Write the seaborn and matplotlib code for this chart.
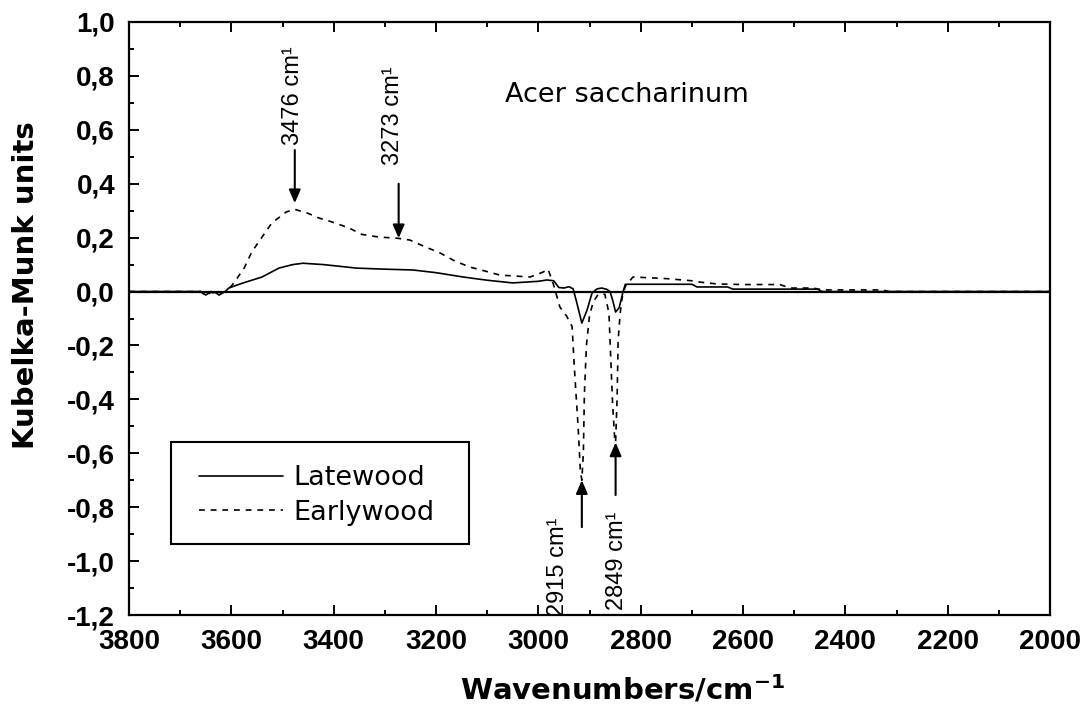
import matplotlib as mpl

mpl.use('Agg')
import matplotlib.pyplot as plt
from matplotlib.ticker import MultipleLocator
from matplotlib.patches import Rectangle
import seaborn as sns
import pandas as pd

# ---- data ----
late_x = [3800, 3700, 3660, 3650, 3640, 3630, 3624, 3612, 3605, 3580, 3560,
          3540, 3507, 3480, 3460, 3420, 3380, 3356, 3300, 3245, 3200, 3147,
          3100, 3050, 3000, 2983, 2970, 2960, 2950, 2940, 2932, 2925, 2915,
          2905, 2895, 2885, 2876, 2866, 2860, 2855, 2849, 2842, 2835, 2830,
          2700, 2690, 2630, 2620, 2455, 2445, 2000]
late_y = [0.0, 0.0, 0.0, -0.013, 0.0, -0.005, -0.013, 0.0, 0.013, 0.03, 0.042,
          0.054, 0.087, 0.100, 0.105, 0.100, 0.092, 0.087, 0.083, 0.080, 0.070,
          0.054, 0.042, 0.032, 0.038, 0.043, 0.040, 0.015, 0.013, 0.018, 0.010,
          -0.04, -0.117, -0.07, -0.005, 0.010, 0.013, 0.008, 0.0, -0.03, -0.076,
          -0.06, -0.005, 0.027, 0.027, 0.017, 0.017, 0.009, 0.009, 0.0, 0.0]

early_x = [3800, 3700, 3660, 3650, 3640, 3625, 3612, 3600, 3591, 3575, 3560,
           3540, 3521, 3493, 3476, 3450, 3429, 3403, 3370, 3345, 3311, 3276,
           3251, 3225, 3192, 3163, 3134, 3104, 3075, 3016, 2991, 2981, 2971,
           2958, 2945, 2934, 2930, 2926, 2922, 2918, 2915, 2912, 2910, 2906,
           2900, 2893, 2883, 2870, 2862, 2858, 2855, 2851, 2849, 2846, 2844,
           2840, 2836, 2830, 2815, 2750, 2700, 2684, 2650, 2600, 2528, 2508,
           2463, 2444, 2327, 2315, 2000]
early_y = [0.0, 0.0, 0.0, -0.015, -0.003, -0.008, 0.0, 0.02, 0.043, 0.087, 0.147,
           0.202, 0.254, 0.295, 0.305, 0.290, 0.273, 0.258, 0.236, 0.212, 0.202,
           0.198, 0.191, 0.169, 0.143, 0.113, 0.091, 0.076, 0.061, 0.054, 0.072,
           0.083, 0.03, -0.057, -0.09, -0.13, -0.27, -0.39, -0.51, -0.66, -0.70,
           -0.60, -0.38, -0.20, -0.09, -0.04, -0.01, -0.01, -0.08, -0.27, -0.41,
           -0.54, -0.56, -0.39, -0.18, -0.08, -0.02, 0.02, 0.054, 0.048, 0.040,
           0.035, 0.028, 0.026, 0.026, 0.013, 0.013, 0.006, 0.006, 0.0, 0.0]

x_ticks = [3800, 3600, 3400, 3200, 3000, 2800, 2600, 2400, 2200, 2000]
y_ticks = [-1.2, -1.0, -0.8, -0.6, -0.4, -0.2, 0.0, 0.2, 0.4, 0.6, 0.8, 1.0]
y_tick_labels = ['-1,2', '-1,0', '-0,8', '-0,6', '-0,4', '-0,2',
                 '0,0', '0,2', '0,4', '0,6', '0,8', '1,0']

# peak labels: (wavenumber, arrow start y, arrow tip y, text x, text y, va)
peaks = [
    (3476, 0.525, 0.328, 3480, 0.545, 'bottom'),
    (3273, 0.400, 0.198, 3284, 0.470, 'bottom'),
    (2915, -0.874, -0.700, 2962, -0.840, 'top'),
    (2849, -0.755, -0.560, 2846, -0.815, 'top'),
]

sns.set_style('ticks')
plt.rcParams['font.family'] = ['Liberation Sans', 'DejaVu Sans']
plt.rcParams['mathtext.fontset'] = 'custom'
plt.rcParams['mathtext.rm'] = 'DejaVu Sans'
plt.rcParams['mathtext.bf'] = 'DejaVu Sans:bold'
for key in ['text.color', 'axes.labelcolor', 'xtick.color', 'ytick.color',
            'axes.edgecolor']:
    plt.rcParams[key] = 'black'

fig = plt.figure(figsize=(10.87, 7.07), dpi=100)
ax = fig.add_axes([129 / 1087, 1 - 615 / 707, 921 / 1087, 593 / 707])

late_df = pd.DataFrame({'x': late_x, 'y': late_y})
early_df = pd.DataFrame({'x': early_x, 'y': early_y})

ax.axhline(0, color='black', lw=1.6, zorder=1)
sns.lineplot(data=late_df, x='x', y='y', ax=ax, color='black', lw=1.2,
             sort=False, estimator=None, label='Latewood')
sns.lineplot(data=early_df, x='x', y='y', ax=ax, color='black', lw=1.2,
             sort=False, estimator=None, label='Earlywood',
             linestyle=(0, (3.5, 3.5)))

ax.set_xlim(3800, 2000)
ax.set_ylim(-1.2, 1.0)
ax.set_xticks(x_ticks)
ax.set_xticklabels([str(t) for t in x_ticks])
ax.set_yticks(y_ticks)
ax.set_yticklabels(y_tick_labels)
ax.xaxis.set_minor_locator(MultipleLocator(100))
ax.yaxis.set_minor_locator(MultipleLocator(0.1))
ax.tick_params(which='both', direction='in', top=True, right=False,
               width=1.4, color='black', labelcolor='black')
ax.tick_params(which='major', length=7.5, pad=10, labelsize=20)
ax.tick_params(which='minor', length=3.8)
for lab in ax.get_xticklabels() + ax.get_yticklabels():
    lab.set_fontweight('bold')
for s in ax.spines.values():
    s.set_linewidth(1.6)
    s.set_color('black')

ax.set_xlabel('')
ax.set_ylabel('')
fig.text(622 / 1087, 1 - 690 / 707, r'Wavenumbers/cm$^{\mathbf{-1}}$',
         ha='center', va='center', fontsize=21, fontweight='bold',
         family='DejaVu Sans', color='black')
fig.text(26 / 1087, 1 - 285 / 707, 'Kubelka-Munk units', rotation=90,
         ha='center', va='center', fontsize=21, fontweight='bold',
         family='DejaVu Sans', color='black')

ax.text(2826, 0.73, 'Acer saccharinum', ha='center', va='center',
        fontsize=19.5, family='DejaVu Sans', color='black')

# arrows and peak labels
for wn, y0, y1, tx, ty, va in peaks:
    ax.annotate('', xy=(wn, y1), xytext=(wn, y0),
                arrowprops=dict(arrowstyle='-|>,head_length=0.8,head_width=0.35',
                                color='black', lw=1.5,
                                shrinkA=0, shrinkB=0))
    ax.text(tx, ty, f'{wn} cm\u00b9', rotation=90, ha='center', va=va,
            fontsize=17, color='black', clip_on=False)

# legend with a hand-placed square frame
ax.add_patch(Rectangle((42 / 921, 71 / 593), 298 / 921, 102 / 593,
                       transform=ax.transAxes, fill=True, facecolor='white',
                       edgecolor='black', lw=1.5, zorder=4))
leg = ax.legend(loc='center left', bbox_to_anchor=(70 / 921, 119.5 / 593),
                borderaxespad=0, borderpad=0, frameon=False,
                prop={'family': 'DejaVu Sans', 'size': 19.5},
                handlelength=3.1, handletextpad=0.37, labelspacing=0.3,
                labelcolor='black')
leg.set_zorder(5)

plt.savefig('out.png', dpi=100)
